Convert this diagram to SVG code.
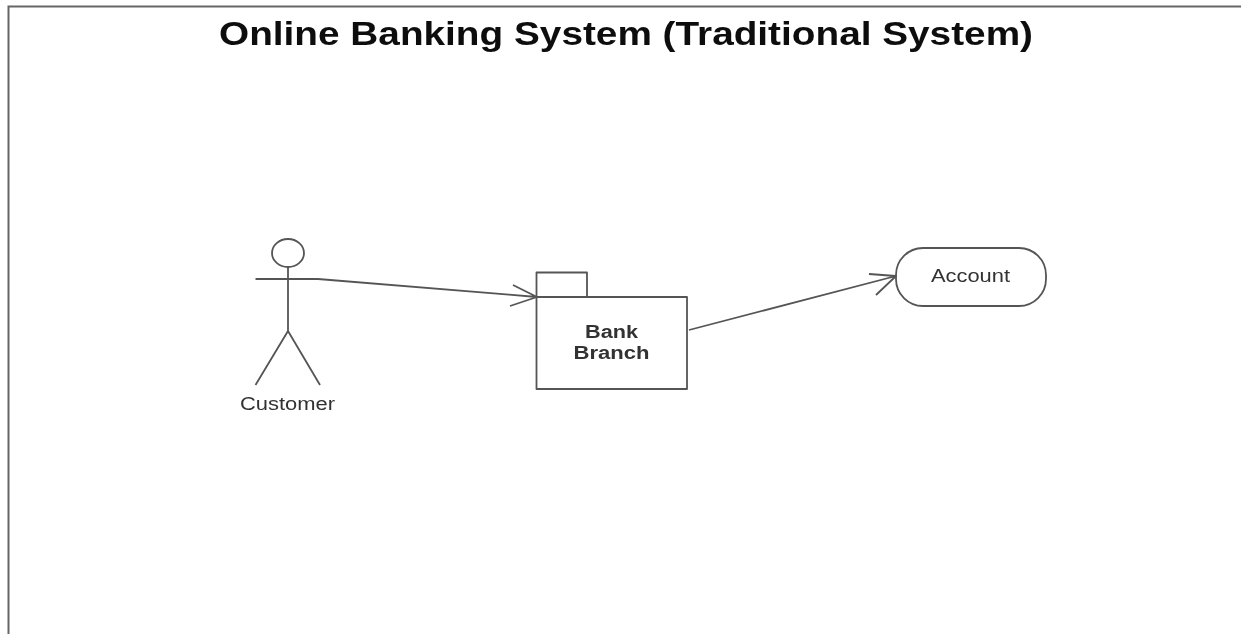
<svg xmlns="http://www.w3.org/2000/svg" width="1241" height="634" viewBox="0 0 1241 634">
<style>
.s{fill:none;stroke:#555;stroke-width:1.8;stroke-linejoin:round}
.t{font-family:"Liberation Sans",Arial,sans-serif;fill:#333;text-anchor:middle}
.n{font-size:18px}
.b{font-size:18px;font-weight:bold}
</style>
<defs><filter id="soft" x="0" y="0" width="1" height="1" filterUnits="objectBoundingBox"><feGaussianBlur stdDeviation="0.5"/></filter></defs>
<rect width="1241" height="634" fill="#fff"/>
<g filter="url(#soft)">
<rect width="1241" height="634" fill="#fff"/>
<g id="frame"><path d="M8.500 640V6.500H1241" fill="none" stroke="#666" stroke-width="2"/></g>
<text id="title" class="t" x="626" y="45" font-size="34" font-weight="bold" style="fill:#111" textLength="814" lengthAdjust="spacingAndGlyphs">Online Banking System (Traditional System)</text>
<g id="customer">
<ellipse class="s" cx="288" cy="253" rx="16" ry="14"/>
<path class="s" d="M288 267V331M255.500 279H318M288 331L255.500 385M288 331L320 385"/>
<text class="t n" x="287.500" y="410" textLength="95" lengthAdjust="spacingAndGlyphs">Customer</text>
</g>
<g id="bank-branch">
<path class="s" d="M536.500 297V272.500H587V297"/>
<rect class="s" x="536.500" y="297" width="150.500" height="92"/>
<text class="t b" x="611.500" y="338" textLength="53" lengthAdjust="spacingAndGlyphs">Bank</text>
<text class="t b" x="611.500" y="359" textLength="76" lengthAdjust="spacingAndGlyphs">Branch</text>
</g>
<g id="account">
<rect class="s" x="896" y="248" width="150" height="58" rx="27" ry="27"/>
<text class="t n" x="970.500" y="282" textLength="79" lengthAdjust="spacingAndGlyphs">Account</text>
</g>
<g id="connectors">
<path class="s" d="M318 279L537 297M513 285L537 297L510 306"/>
<path class="s" d="M689 330L896 276M869 274L896 276L876 295"/>
</g>
</g>
</svg>
